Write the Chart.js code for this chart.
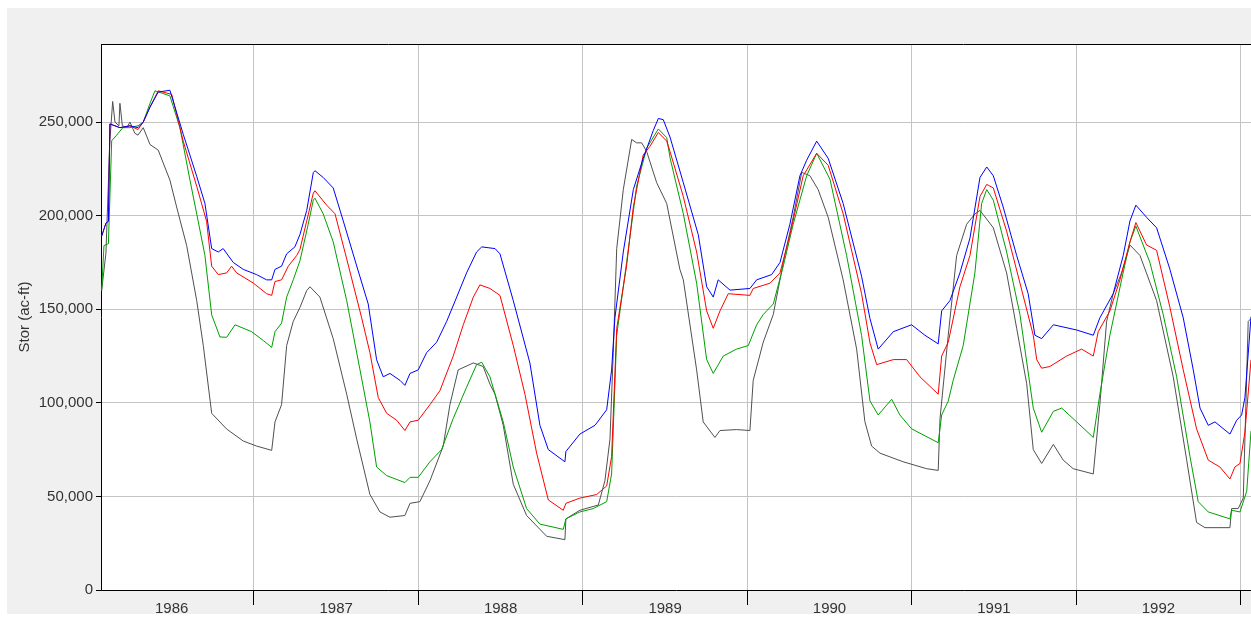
<!DOCTYPE html>
<html>
<head>
<meta charset="utf-8">
<script src="https://cdn.jsdelivr.net/npm/chart.js@4/dist/chart.umd.min.js"></script>
<style>
  html, body { margin: 0; padding: 0; background: #ffffff; width: 1251px; height: 618px; overflow: hidden; }
  #panel { position: absolute; left: 7px; top: 8px; width: 1244px; height: 606px; background: #f0f0f0; }
  #c { position: absolute; left: 0; top: 0; }
</style>
</head>
<body>
<div id="panel"></div>
<canvas id="c" width="1251" height="618"></canvas>
<script>
// ---- axis setup (decimal years) ----
const xMin = 1986.070;
const xMax = 1993.063;
const yearTicks = [1986.5, 1987, 1987.5, 1988, 1988.5, 1989, 1989.5, 1990, 1990.5, 1991, 1991.5, 1992, 1992.5, 1993];
const stor_ticks = [0, 50000, 100000, 150000, 200000, 250000];
const yMax = 291700;

// ---- series: blue ----
const blueYears = [1986.074,1986.100,1986.115,1986.124,1986.155,1986.185,1986.246,1986.295,1986.327,1986.368,1986.418,1986.489,1986.570,1986.652,1986.702,1986.743,1986.783,1986.813,1986.874,1986.935,
1987.016,1987.077,1987.108,1987.128,1987.168,1987.199,1987.249,1987.280,1987.321,1987.361,1987.371,1987.421,1987.482,1987.543,1987.625,1987.695,1987.746,1987.786,1987.827,1987.888,1987.918,1987.949,1987.999,
1988.050,1988.111,1988.172,1988.233,1988.293,1988.354,1988.385,1988.466,1988.496,1988.577,1988.678,1988.739,1988.790,1988.891,1988.897,1988.982,
1989.074,1989.145,1989.175,1989.195,1989.246,1989.307,1989.367,1989.428,1989.459,1989.489,1989.530,1989.611,1989.702,1989.753,1989.793,1989.823,1989.895,
1990.016,1990.057,1990.148,1990.199,1990.259,1990.320,1990.361,1990.422,1990.492,1990.583,1990.695,1990.746,1990.796,1990.888,1990.999,
1991.080,1991.161,1991.182,1991.232,1991.293,1991.354,1991.415,1991.456,1991.496,1991.556,1991.638,1991.708,1991.749,1991.790,1991.861,
1992.003,1992.104,1992.144,1992.225,1992.286,1992.327,1992.363,1992.428,1992.489,1992.570,1992.651,1992.712,1992.753,1992.803,1992.844,1992.935,1992.976,
1993.006,1993.026,1993.063];
const blueStor = [189000,196000,197000,249000,248000,247000,248000,247000,250000,258000,266000,267000,243500,221000,206500,182400,180600,182400,175000,171300,
168500,165700,165700,171300,173000,179600,183300,190000,202800,223000,224000,220400,214800,197200,173100,152800,123000,113900,115700,112000,109300,115700,117600,
126800,132400,143500,156500,169400,180600,183300,182400,179600,154600,121300,88000,75000,68500,74000,83300,
88000,96300,117600,145400,180600,213900,230600,245400,251900,251300,242000,217600,189800,162000,156500,165700,160200,
161100,165700,168500,175000,195400,221300,229600,239800,230600,206500,167600,145000,128700,138000,141700,
136100,131500,149100,154600,169400,188000,220400,226000,221300,204600,178700,158300,136100,134300,141700,
138900,136100,145400,158300,178700,197200,205600,199100,193500,171300,145400,117600,97200,88000,89800,83300,90700,
93500,102800,146000];

// ---- series: red ----
const redYears = [1986.074,1986.100,1986.115,1986.124,1986.155,1986.185,1986.246,1986.295,1986.327,1986.368,1986.418,1986.500,1986.570,1986.652,1986.712,1986.743,1986.783,1986.834,1986.864,1986.895,1986.996,
1987.077,1987.108,1987.128,1987.168,1987.209,1987.260,1987.280,1987.321,1987.361,1987.371,1987.442,1987.493,1987.564,1987.655,1987.705,1987.756,1987.807,1987.868,1987.918,1987.949,1987.999,
1988.070,1988.131,1988.212,1988.273,1988.334,1988.374,1988.435,1988.496,1988.577,1988.648,1988.719,1988.790,1988.881,1988.897,1988.982,
1989.084,1989.145,1989.175,1989.206,1989.266,1989.307,1989.367,1989.408,1989.459,1989.510,1989.530,1989.611,1989.692,1989.753,1989.793,1989.834,1989.884,
1990.016,1990.036,1990.138,1990.199,1990.259,1990.340,1990.422,1990.492,1990.583,1990.695,1990.746,1990.787,1990.888,1990.969,
1991.050,1991.161,1991.182,1991.222,1991.293,1991.354,1991.415,1991.456,1991.496,1991.577,1991.658,1991.739,1991.760,1991.790,1991.840,1991.942,
1992.033,1992.104,1992.134,1992.205,1992.266,1992.327,1992.363,1992.428,1992.489,1992.570,1992.651,1992.732,1992.803,1992.874,1992.935,1992.965,1992.996,
1993.026,1993.063];
const redStor = [189000,196000,197000,249000,248000,247000,248000,246000,250000,258000,266700,264800,239800,215700,197000,173000,168500,169400,173000,169400,164000,
158300,157400,164800,165700,173000,178700,182000,197200,212000,213300,205600,201000,176900,145400,126900,102800,94400,90700,85200,89800,90700,
99000,106500,125000,141700,156500,163000,161100,157400,130600,104600,73100,48100,42600,46300,49100,
51000,55600,71300,139800,173100,204600,232400,237000,244400,239800,234300,210200,180600,149100,139800,149100,158300,
157400,161100,163900,169400,189800,221300,233300,226900,201000,158300,132000,120400,123100,123100,
113900,104600,125000,132400,162000,178700,210200,216700,214800,191700,164000,136100,123100,118500,119400,125000,
128700,125000,138000,149100,165700,186000,196300,184300,181500,151000,117600,86100,69400,65700,59300,65700,67600,
84300,123000];

// ---- series: green ----
const greenYears = [1986.074,1986.088,1986.115,1986.135,1986.165,1986.203,1986.246,1986.295,1986.327,1986.368,1986.398,1986.489,1986.550,1986.611,1986.661,1986.702,1986.743,1986.793,1986.834,1986.885,1986.986,
1987.057,1987.108,1987.128,1987.168,1987.199,1987.239,1987.280,1987.330,1987.361,1987.371,1987.421,1987.482,1987.564,1987.645,1987.705,1987.746,1987.807,1987.918,1987.949,1987.999,
1988.070,1988.141,1988.212,1988.293,1988.354,1988.385,1988.435,1988.516,1988.577,1988.658,1988.739,1988.881,1988.897,1988.982,
1989.063,1989.145,1989.175,1989.206,1989.266,1989.327,1989.388,1989.459,1989.510,1989.530,1989.611,1989.692,1989.753,1989.793,1989.854,1989.935,
1990.006,1990.057,1990.097,1990.158,1990.219,1990.279,1990.361,1990.422,1990.503,1990.604,1990.695,1990.746,1990.796,1990.878,1990.928,1990.999,
1991.161,1991.182,1991.222,1991.252,1991.313,1991.384,1991.425,1991.456,1991.496,1991.577,1991.658,1991.739,1991.790,1991.861,1991.912,
1992.003,1992.104,1992.144,1992.205,1992.276,1992.327,1992.363,1992.448,1992.529,1992.611,1992.692,1992.742,1992.803,1992.935,1992.945,1992.996,
1993.037,1993.063];
const greenStor = [160000,184000,185000,240000,243000,247000,247000,248000,250000,260000,266700,264000,247000,219000,197000,178700,147000,135200,135000,141700,138000,
133300,129600,138000,142600,156500,165700,176000,195400,208300,209300,201000,186000,154600,117600,89800,65700,61100,57400,60200,60200,
68500,75000,91700,108300,120400,121700,113900,89800,65700,43500,35200,32400,38000,41700,
43500,47200,62000,136100,175000,215700,236000,246300,241700,231000,201000,163900,123100,115700,125000,128700,
130600,141700,147200,152800,173100,195400,221300,233300,219400,178700,136000,101000,93500,101900,93500,86100,
78700,93500,100900,112000,130600,169400,206500,213900,208300,180600,147200,97200,84300,95400,97200,
89800,81500,104600,136100,165700,186000,194400,175000,147200,113900,71300,47200,41700,38000,42600,41700,
52800,85000];

// ---- series: dark grey ----
const greyYears = [1986.074,1986.100,1986.124,1986.141,1986.155,1986.179,1986.185,1986.200,1986.228,1986.246,1986.276,1986.295,1986.327,1986.368,1986.418,1986.489,1986.530,1986.591,1986.652,1986.692,1986.743,1986.834,1986.935,
1987.016,1987.108,1987.128,1987.168,1987.199,1987.239,1987.280,1987.321,1987.341,1987.401,1987.482,1987.564,1987.625,1987.705,1987.766,1987.827,1987.918,1987.949,
1988.009,1988.070,1988.151,1988.192,1988.242,1988.334,1988.394,1988.435,1988.466,1988.516,1988.577,1988.658,1988.780,1988.891,1988.897,1988.982,
1989.094,1989.134,1989.165,1989.185,1989.206,1989.246,1989.297,1989.327,1989.358,1989.388,1989.449,1989.510,1989.590,1989.611,1989.692,1989.732,1989.803,1989.834,1989.935,
1990.016,1990.036,1990.097,1990.158,1990.219,1990.279,1990.331,1990.381,1990.431,1990.492,1990.583,1990.665,1990.715,1990.756,1990.807,1990.948,
1991.091,1991.161,1991.172,1991.222,1991.273,1991.334,1991.384,1991.415,1991.496,1991.577,1991.638,1991.699,1991.739,1991.790,1991.861,1991.921,1991.982,
1992.104,1992.144,1992.185,1992.225,1992.276,1992.327,1992.388,1992.489,1992.590,1992.672,1992.732,1992.783,1992.935,1992.945,1992.985,
1993.016,1993.046,1993.063];
const greyStor = [160000,180000,240000,261000,250000,248000,260000,248000,247000,250000,244000,243000,247000,238000,235000,219000,204600,184000,154600,130600,94400,86000,79600,
76900,74600,89800,99000,130600,143500,151000,160000,162000,156500,134300,104600,80600,51100,41700,38900,39800,46300,
47200,58300,76900,99100,117600,121300,119400,110000,104600,88000,56500,39800,28700,26900,38000,42600,
45400,58300,80600,126900,182400,213900,240700,238900,238900,234300,217600,206500,171300,165700,117600,89800,81500,85200,85700,
85200,112000,132400,147200,175000,199100,223100,221300,213900,199100,165700,128700,90000,76900,73100,68500,
64800,63900,91700,136100,178700,195400,200900,202800,193500,169400,139800,110200,75000,67600,77800,69400,64800,
62000,99100,143500,158300,169400,184300,178700,154600,113900,69400,36100,33300,33300,43500,43500,
49100,143500,145000];

function pts(xs, ys) { return xs.map((x, i) => ({ x: x, y: ys[i] })); }

const FONT = '"Liberation Sans", Arial, sans-serif';

const bgPlugin = {
  id: 'plotBg',
  beforeDraw(chart) {
    const a = chart.chartArea, c = chart.ctx;
    c.save();
    c.fillStyle = '#ffffff';
    c.fillRect(a.left, a.top, a.right - a.left, a.bottom - a.top);
    c.restore();
  },
  afterDraw(chart) {
    const a = chart.chartArea, c = chart.ctx;
    c.save();
    c.strokeStyle = '#000000';
    c.lineWidth = 1;
    c.beginPath();
    c.moveTo(a.left, a.top + 0.5);
    c.lineTo(a.right, a.top + 0.5);
    c.stroke();
    c.restore();
  }
};

const isYear = v => Math.abs(v - Math.round(v)) < 1e-6;

new Chart(document.getElementById('c'), {
  type: 'line',
  data: {
    datasets: [
      { label: 'Blue', data: pts(blueYears, blueStor), borderColor: '#0000ff' },
      { label: 'Red', data: pts(redYears, redStor), borderColor: '#ff0000' },
      { label: 'Green', data: pts(greenYears, greenStor), borderColor: '#00a000' },
      { label: 'Grey', data: pts(greyYears, greyStor), borderColor: '#505050' }
    ]
  },
  options: {
    responsive: false,
    animation: false,
    layout: { padding: { top: 44, left: 0, right: 0, bottom: 0 } },
    plugins: { legend: { display: false }, tooltip: { enabled: false } },
    elements: { point: { radius: 0 }, line: { borderWidth: 1, tension: 0, fill: false } },
    scales: {
      x: {
        type: 'linear',
        min: xMin,
        max: xMax,
        afterBuildTicks: s => { s.ticks = yearTicks.map(v => ({ value: v })); },
        afterFit: s => { s.height = 28; },
        grid: {
          color: c => (c.tick && isYear(c.tick.value)) ? '#c4c4c4' : 'rgba(0,0,0,0)',
          tickColor: c => (c.tick && isYear(c.tick.value)) ? '#000000' : 'rgba(0,0,0,0)',
          tickLength: 15,
          lineWidth: 1
        },
        border: { color: '#000000', width: 1 },
        ticks: {
          autoSkip: false,
          maxRotation: 0,
          minRotation: 0,
          padding: -5,
          color: '#333333',
          font: { family: FONT, size: 15 },
          callback: v => isYear(v) ? '' : String(Math.floor(v))
        }
      },
      y: {
        type: 'linear',
        min: 0,
        max: yMax,
        afterBuildTicks: s => { s.ticks = stor_ticks.map(v => ({ value: v })); },
        afterFit: s => { s.width = 101; },
        grid: { color: '#c4c4c4', tickColor: '#000000', tickLength: 5, lineWidth: 1 },
        border: { color: '#000000', width: 1 },
        ticks: {
          padding: 3,
          color: '#333333',
          font: { family: FONT, size: 15 },
          callback: v => v.toLocaleString('en-US')
        },
        title: {
          display: true,
          text: 'Stor (ac-ft)',
          color: '#333333',
          font: { family: FONT, size: 15 },
          padding: { top: 16, bottom: 0 }
        }
      }
    }
  },
  plugins: [bgPlugin]
});
</script>
</body>
</html>
